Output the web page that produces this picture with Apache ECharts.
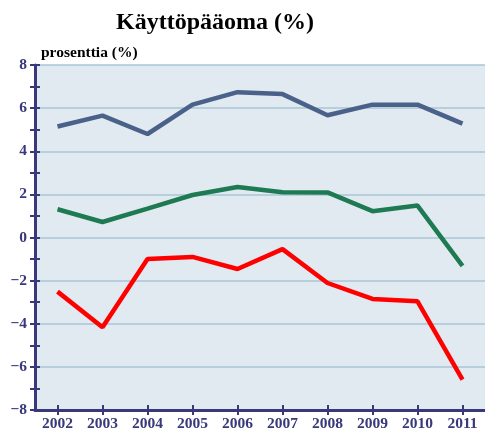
<!DOCTYPE html>
<html>
<head>
<meta charset="utf-8">
<script src="https://cdn.jsdelivr.net/npm/echarts@6/dist/echarts.min.js"></script>
<style>html,body{margin:0;padding:0;background:#fff}#c{width:485px;height:432px}</style>
</head>
<body>
<div id="c"></div>
<script>
const years = ['2002','2003','2004','2005','2006','2007','2008','2009','2010','2011'];
const blueValues = [5.15, 5.65, 4.8, 6.16, 6.74, 6.65, 5.67, 6.16, 6.16, 5.28];
const greenValues = [1.31, 0.72, 1.34, 1.97, 2.34, 2.1, 2.09, 1.22, 1.48, -1.32];
const redValues = [-2.51, -4.16, -1.0, -0.9, -1.46, -0.54, -2.11, -2.85, -2.96, -6.59];
const titleText = 'Käyttöpääoma (%)';
const yName = 'prosenttia (%)';

const navy = '#38387a';
const font = 'Liberation Serif';
const chart = echarts.init(document.getElementById('c'));
const tickAxisY = (inside) => ({
  type: 'value', min: -8, max: 8, interval: 1, position: 'left',
  axisLine: {show: false, onZero: false}, axisLabel: {show: false}, splitLine: {show: false},
  axisTick: {show: true, inside: inside, length: 5, lineStyle: {color: navy, width: 2}}
});
const tickAxisX = (inside) => ({
  type: 'category', data: years, position: 'bottom', boundaryGap: true,
  axisLine: {show: false, onZero: false}, axisLabel: {show: false}, splitLine: {show: false},
  axisTick: {show: true, inside: inside, alignWithLabel: true, length: 5, lineStyle: {color: navy, width: 2}}
});
chart.setOption({
  animation: false,
  title: [
    {text: titleText, left: 111, top: 6,
     textStyle: {fontFamily: font, fontWeight: 'bold', fontSize: 24, color: '#000'}},
    {text: yName, left: 36, top: 40,
     textStyle: {fontFamily: font, fontWeight: 'bold', fontSize: 15.5, color: '#000'}}
  ],
  grid: {left: 35, right: -2, top: 65, bottom: 20.5, show: true, backgroundColor: '#e1e9f1', borderWidth: 0},
  xAxis: [
    {type: 'category', data: years, position: 'bottom', boundaryGap: true,
     axisLine: {show: true, onZero: false, lineStyle: {color: navy, width: 3}},
     axisTick: {show: true, alignWithLabel: true, length: 5, lineStyle: {color: navy, width: 2}},
     axisLabel: {color: navy, fontFamily: font, fontWeight: 'bold', fontSize: 15.5, margin: 6},
     splitLine: {show: false}},
    tickAxisX(true)
  ],
  yAxis: [
    {type: 'value', min: -8, max: 8, interval: 2, position: 'left',
     axisLine: {show: true, onZero: false, lineStyle: {color: navy, width: 3}},
     axisTick: {show: false},
     axisLabel: {color: navy, fontFamily: font, fontWeight: 'bold', fontSize: 15.5, margin: 8,
       formatter: v => String(v).replace('-', '\u2212')},
     splitLine: {show: true, lineStyle: {color: '#a8c4d6', width: 1.5}}},
    tickAxisY(false),
    tickAxisY(true)
  ],
  series: [
    {type: 'line', data: blueValues, xAxisIndex: 0, yAxisIndex: 0, symbol: 'none',
     lineStyle: {color: '#4a6189', width: 4.5}},
    {type: 'line', data: greenValues, xAxisIndex: 0, yAxisIndex: 0, symbol: 'none',
     lineStyle: {color: '#1d7a52', width: 4.5}},
    {type: 'line', data: redValues, xAxisIndex: 0, yAxisIndex: 0, symbol: 'none',
     lineStyle: {color: '#ff0000', width: 4.5}}
  ]
});
</script>
</body>
</html>
